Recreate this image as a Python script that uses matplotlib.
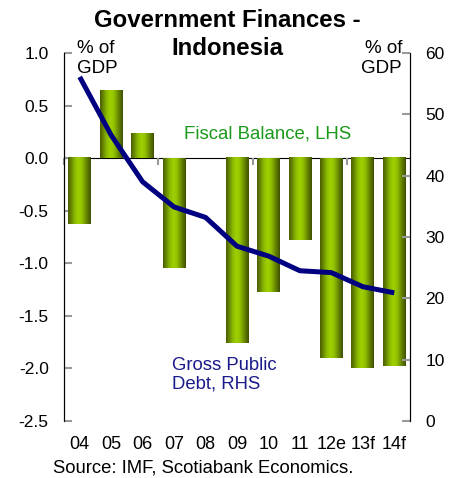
import numpy as np
import matplotlib.pyplot as plt
from matplotlib.colors import LinearSegmentedColormap

plt.rcParams['font.family'] = ['Liberation Sans', 'DejaVu Sans']
plt.rcParams['axes.unicode_minus'] = False

# data
years = ['04', '05', '06', '07', '08', '09', '10', '11', '12e', '13f', '14f']
fiscal_balance = [-0.63, 0.64, 0.23, -1.04, 0.0, -1.76, -1.27, -0.78, -1.90, -2.00, -1.98]
gross_debt = [56.1, 46.6, 39.0, 34.9, 33.2, 28.5, 26.9, 24.5, 24.2, 21.9, 20.9]

fig = plt.figure(figsize=(4.61, 4.78), dpi=100)
ax = fig.add_axes([0.1388, 0.1192, 0.7505, 0.7699])
ax2 = ax.twinx()

x = np.arange(len(years))
bar_w = 0.72

# cylinder-like gradient for bars
cmap = LinearSegmentedColormap.from_list(
    'cyl', [(0.0, '#4a5d00'), (0.3, '#8cbc00'), (0.45, '#9fd000'),
            (0.6, '#94c400'), (1.0, '#3f5000')])
grad = np.linspace(0, 1, 64).reshape(1, -1)
for xi, v in zip(x, fiscal_balance):
    if v == 0:
        continue
    ax.imshow(grad, cmap=cmap, aspect='auto', interpolation='bilinear',
              extent=[xi - bar_w / 2, xi + bar_w / 2, min(0, v), max(0, v)], zorder=2)

ax.set_xlim(-0.5, len(years) - 0.5)
ax.set_ylim(-2.5, 1.0)
yt = np.arange(-2.5, 1.01, 0.5)
ax.set_yticks(yt)
ax.set_yticklabels([f'{t:.1f}' for t in yt])

ax2.plot(x, gross_debt, color='#000080', lw=3.6, zorder=3, solid_capstyle='butt')
ax2.set_ylim(0, 60)
ax2.set_yticks(range(0, 61, 10))

# spines
ax.spines['top'].set_visible(False)
ax2.spines['top'].set_visible(False)
ax.spines['bottom'].set_position(('data', 0))
ax2.spines['bottom'].set_visible(False)
ax.spines['bottom'].set_zorder(1)

ax.set_xticks([-0.5, 2.5, 5.5, 8.5])
ax.set_xticklabels([])
ax.tick_params(axis='x', direction='out', length=5, color='#999999', width=1.5)
ax.tick_params(axis='y', direction='in', length=6, color='#999999', width=1.5,
               labelsize=12.5, pad=11)
ax2.tick_params(axis='y', direction='in', length=6, color='#999999', width=1.5,
                labelsize=12.5, pad=11)

tr = ax.get_xaxis_transform()
for xi, lab in zip(x, years):
    ax.text(xi, -0.0625, lab, transform=tr, ha='center', va='center', fontsize=13)

fig.text(0.493, 0.958, 'Government Finances -', ha='center', va='center',
         fontsize=17.3, fontweight='bold')
fig.text(0.493, 0.899, 'Indonesia', ha='center', va='center',
         fontsize=17.3, fontweight='bold')

ax.text(0.037, 1.035, '% of\nGDP', transform=ax.transAxes, ha='left', va='top',
        fontsize=13.5, linespacing=1.25)
ax.text(0.977, 1.035, '% of\nGDP', transform=ax.transAxes, ha='right', va='top',
        fontsize=13.5, linespacing=1.25)

ax.text(0.347, 0.78, 'Fiscal Balance, LHS', transform=ax.transAxes, ha='left',
        va='center', fontsize=13.4, color='#1a9a1a')
ax.text(0.312, 0.125, 'Gross Public\nDebt, RHS', transform=ax.transAxes, ha='left',
        va='center', fontsize=13.3, color='#1a1a8c', linespacing=1.15)

fig.text(0.115, 0.021, 'Source: IMF, Scotiabank Economics.', ha='left', va='center',
         fontsize=13.3)

fig.savefig('out.png', dpi=100)
